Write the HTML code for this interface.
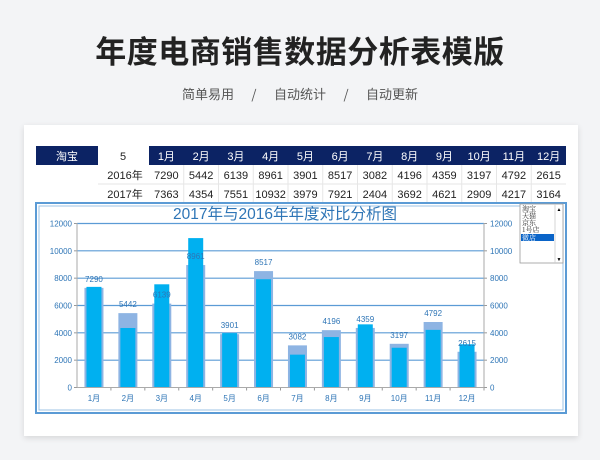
<!DOCTYPE html>
<html><head><meta charset="utf-8"><style>
body{margin:0;width:600px;height:460px;background:#f3f4f6;overflow:hidden;font-family:"Liberation Sans","Noto Sans CJK SC",sans-serif}
.card{position:absolute;left:24px;top:125px;width:554px;height:311px;background:#fff;box-shadow:0 2px 6px rgba(0,0,0,0.12)}
</style></head><body>
<div style="position:absolute;left:0;top:27px;width:600px;text-align:center;font-size:31px;letter-spacing:0.5px;font-weight:bold;color:#222;font-family:'Noto Sans CJK SC',sans-serif">年度电商销售数据分析表模版</div>
<div style="position:absolute;left:0;top:84px;width:600px;text-align:center;font-size:13px;color:#555;font-family:'Noto Sans CJK SC',sans-serif;white-space:pre">简单易用      /      自动统计      /      自动更新</div>
<div class="card"></div>
<svg width="600" height="460" style="position:absolute;left:0;top:0" font-family="Liberation Sans, Noto Sans CJK SC, sans-serif">
<rect x="36" y="146" width="62" height="19" fill="#0c2364"/>
<rect x="149" y="146" width="417" height="19" fill="#0c2364"/>
<text x="67" y="160" font-size="11" fill="#fff" text-anchor="middle">淘宝</text>
<text x="123" y="160" font-size="11" fill="#222" text-anchor="middle">5</text>
<g font-size="11" text-anchor="middle" id="tbl"></g>
<text x="125" y="179" font-size="11" fill="#222" text-anchor="middle">2016年</text>
<text x="125" y="198" font-size="11" fill="#222" text-anchor="middle">2017年</text>
<rect x="36" y="203" width="530" height="210" fill="#fff" stroke="#5b9bd5" stroke-width="2"/>
<rect x="39" y="206" width="524" height="204" fill="none" stroke="#9dc3e6" stroke-width="1"/>
<text x="285" y="219" font-size="15.5" fill="#2e75b6" text-anchor="middle">2017年与2016年年度对比分析图</text>
<g id="ch"></g>
<rect x="520" y="204" width="43" height="59" fill="#fff" stroke="#999" stroke-width="0.8"/>
<rect x="521" y="234" width="33" height="7" fill="#0a64c8"/>
<g font-size="7" font-family="Liberation Serif, Noto Serif CJK SC, serif" fill="#333">
<text x="522" y="211">淘宝</text><text x="522" y="218">天猫</text><text x="522" y="225">京东</text><text x="522" y="232">1号店</text><text x="522" y="240" fill="#fff">微店</text></g>
<line x1="555" y1="204" x2="555" y2="263" stroke="#ccc" stroke-width="0.8"/>
<text x="559" y="211" font-size="5" text-anchor="middle">▲</text><text x="559" y="261" font-size="5" text-anchor="middle">▼</text>
</svg>
<script>
const a=[7290,5442,6139,8961,3901,8517,3082,4196,4359,3197,4792,2615],b=[7363,4354,7551,10932,3979,7921,2404,3692,4621,2909,4217,3164];
let t="",c="";
const cw=417/12;
for(let i=0;i<12;i++){const x=149+cw*(i+0.5);
t+=`<text x="${x}" y="160" fill="#fff">${i+1}月</text><text x="${x}" y="179" fill="#222">${a[i]}</text><text x="${x}" y="198" fill="#222">${b[i]}</text>`;
if(i>0)t+=`<line x1="${149+cw*i}" y1="165" x2="${149+cw*i}" y2="202" stroke="#e6e6e6"/>`;}
t+=`<line x1="98" y1="184" x2="566" y2="184" stroke="#e6e6e6"/>`;
document.getElementById('tbl').innerHTML=t;
const y0=387.5,s=164/12000,x0=77,w=(484-77)/12;
for(let v=0;v<=12000;v+=2000){const y=y0-v*s;
if(v>0)c+=`<line x1="${x0}" y1="${y}" x2="484" y2="${y}" stroke="#5b9bd5" stroke-width="1.2"/>`;
c+=`<text x="72" y="${y+3}" font-size="8" fill="#2e75b6" text-anchor="end">${v}</text><text x="490" y="${y+3}" font-size="8" fill="#2e75b6">${v}</text>`;
c+=`<line x1="${x0-3}" y1="${y}" x2="${x0}" y2="${y}" stroke="#999"/><line x1="484" y1="${y}" x2="487" y2="${y}" stroke="#999"/>`;}
for(let i=0;i<12;i++){const cx=x0+w*(i+0.5);
c+=`<rect x="${cx-9.5}" y="${y0-a[i]*s}" width="19" height="${a[i]*s}" fill="#8eb4e3"/>`;
c+=`<rect x="${cx-7.5}" y="${y0-b[i]*s}" width="15" height="${b[i]*s}" fill="#00b0f0"/>`;
c+=`<text x="${cx}" y="${y0-a[i]*s-6}" font-size="8" fill="#2e75b6" text-anchor="middle">${a[i]}</text>`;
c+=`<text x="${cx}" y="401" font-size="8" fill="#2e75b6" text-anchor="middle">${i+1}月</text>`;
c+=`<line x1="${x0+w*(i+1)}" y1="${y0}" x2="${x0+w*(i+1)}" y2="${y0+3}" stroke="#999"/>`;}
c+=`<line x1="${x0}" y1="223" x2="${x0}" y2="${y0}" stroke="#aaa"/><line x1="484" y1="223" x2="484" y2="${y0}" stroke="#aaa"/><line x1="${x0}" y1="${y0}" x2="484" y2="${y0}" stroke="#aaa"/>`;
document.getElementById('ch').innerHTML=c;
</script>
</body></html>
